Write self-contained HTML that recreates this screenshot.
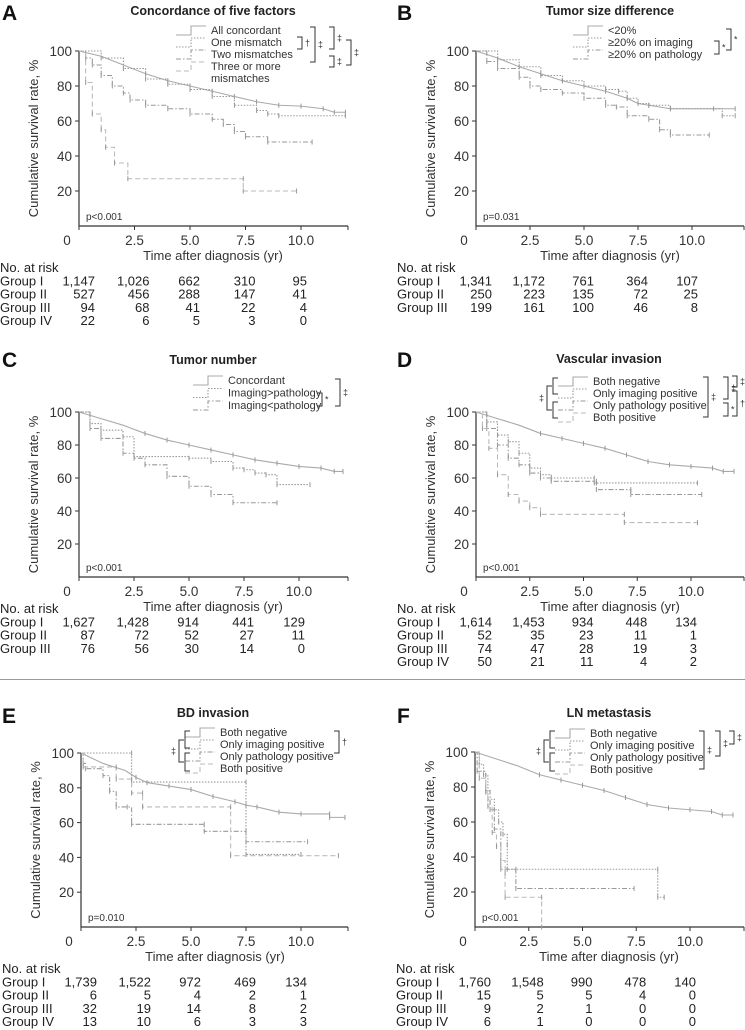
<!DOCTYPE html>
<html><head><meta charset="utf-8">
<style>
html,body{margin:0;padding:0;background:#fff;}
svg{display:block;font-family:"Liberation Sans",Arial,sans-serif;}
</style></head>
<body>
<svg id="fig" width="745" height="1030" viewBox="0 0 745 1030"></svg>
<script>
// ---------- Data (years, survival %) ----------
const timeTicks = [0, 2.5, 5, 7.5, 10];
const timeTickLabels = ["0","2.5","5.0","7.5","10.0"];
const survTicks = [20, 40, 60, 80, 100];

const aGroup1 = [[0,100],[1,97],[2,92],[3,87],[4,83],[5,80],[6,77],[7,74],[8,71],[9,69],[10,68.5],[11,67],[11.5,65],[12,65]];
const aGroup2 = [[0,100],[1,96],[2,90],[3,84],[4,81],[5,78],[6,74],[7,69],[8,66],[8.5,64],[9,63],[12,63]];
const aGroup3 = [[0,100],[0.3,96],[0.6,92],[1,86],[1.5,80],[2,76],[2.3,72],[3,69],[4,67],[5,64],[6,61],[6.5,58],[7,54],[7.5,51],[8.5,48],[10.5,48]];
const aGroup4 = [[0,100],[0.3,82],[0.6,64],[1,55],[1.2,45],[1.6,36],[2.2,27],[7.4,27],[7.4,20],[9.8,20]];
const aRisk = [["1,147","1,026","662","310","95"],["527","456","288","147","41"],["94","68","41","22","4"],["22","6","5","3","0"]];

const bGroup1 = [[0,100],[1,96],[2,91],[3,87],[4,83],[5,80],[6,77],[7,73],[7.5,70],[8,69],[9,67],[12,67]];
const bGroup2 = [[0,100],[1,95],[2,91],[3,86],[4,83],[5,80],[6,78],[6.6,77],[7,73],[7.5,70],[8,69],[9,67],[11,67],[11.4,63],[12,63]];
const bGroup3 = [[0,100],[0.5,94],[1,90],[2,85],[2.5,80],[3,78],[4,76],[5,73],[6,69],[6.5,68],[7,63],[8,61],[8.5,55],[9,52],[10.8,52]];
const bRisk = [["1,341","1,172","761","364","107"],["250","223","135","72","25"],["199","161","100","46","8"]];

const cGroup1 = [[0,100],[1,96],[2,92],[3,87],[4,83],[5,80],[6,77],[7,74],[8,71],[9,69],[10,67],[11,66],[11.6,64],[12,64]];
const cGroup2 = [[0,100],[0.5,93],[1,89],[2,85],[2.5,73],[5,72],[6,70],[7,66],[7.5,65],[8,63],[8.5,62],[9,56],[10.5,56]];
const cGroup3 = [[0,100],[0.5,90],[1,84],[2,75],[2.5,72],[3,68],[4,61],[5,55],[6,50],[7,45],[9,45]];
const cRisk = [["1,627","1,428","914","441","129"],["87","72","52","27","11"],["76","56","30","14","0"]];

const dGroup1 = [[0,100],[1,96],[2,92],[3,87],[4,84],[5,81],[6,78],[7,74],[8,70],[9,68],[10,67],[11,66],[11.5,64],[12,64]];
const dGroup2 = [[0,100],[0.5,94],[1,86],[1.5,82],[2,75],[2.5,66],[3,62],[3.5,60],[5.5,60],[5.5,57],[10.3,57]];
const dGroup3 = [[0,100],[0.5,90],[1,80],[1.5,72],[2,68],[2.5,63],[3,60],[3.5,58],[5.6,58],[5.6,53],[7.2,53],[7.2,50],[10.5,50]];
const dGroup4 = [[0,100],[0.3,90],[0.6,78],[1,62],[1.5,50],[2,46],[2.5,42],[3,38],[6.9,38],[6.9,33],[10.3,33]];
const dRisk = [["1,614","1,453","934","448","134"],["52","35","23","11","1"],["74","47","28","19","3"],["50","21","11","4","2"]];

const eGroup1 = [[0,100],[1,94],[2,90],[2.5,86],[3,83],[4,81],[5,79],[6,75],[7,72],[7.5,70],[8,69],[9,66],[10,65],[11.3,65],[11.3,63],[12,63]];
const eGroup2 = [[0,100],[2.3,100],[2.3,83.3],[7.5,83.3],[7.5,41.7],[10,41.7]];
const eGroup3 = [[0,100],[0.1,94],[0.2,91],[1,87],[1.3,78],[1.6,69],[2.1,69],[2.3,59],[5.6,59],[5.6,55],[7.5,55],[7.5,49],[10.3,49]];
const eGroup4 = [[0,100],[0.1,92],[1.6,92],[1.6,85],[2.3,85],[2.3,77],[2.8,77],[2.8,69],[6.8,69],[6.8,41],[11.7,41]];
const eRisk = [["1,739","1,522","972","469","134"],["6","5","4","2","1"],["32","19","14","8","2"],["13","10","6","3","3"]];

const fGroup1 = [[0,100],[1,96],[2,92],[3,87],[4,84],[5,81],[6,78],[7,74],[8,70],[9,68],[10,67],[11,66],[11.5,64],[12,64]];
const fGroup2 = [[0,100],[0.2,93],[0.4,87],[0.6,73],[0.9,67],[1.1,60],[1.3,53],[1.5,47],[1.5,33],[8.5,33],[8.5,17],[8.8,17]];
const fGroup3 = [[0,100],[0.1,89],[0.5,78],[0.7,67],[0.9,56],[1.2,33],[1.9,33],[1.9,22],[7.4,22]];
const fGroup4 = [[0,100],[0.2,85],[0.5,77],[0.6,69],[0.8,54],[1.0,46],[1.2,38],[1.4,31],[1.4,17],[3.1,17],[3.1,0]];
const fRisk = [["1,760","1,548","990","478","140"],["15","5","5","4","0"],["9","2","1","0","0"],["6","1","0","0","0"]];

// ---------- Rendering ----------
const NS = "http://www.w3.org/2000/svg";
const svg = document.getElementById("fig");
function el(tag, attrs, parent, text) {
  const e = document.createElementNS(NS, tag);
  for (const k in attrs) e.setAttribute(k, attrs[k]);
  if (text !== undefined) e.textContent = text;
  (parent || svg).appendChild(e);
  return e;
}
const dashes = ["", "1.5,1.5", "5,2,1.5,2", "5,3"];
const lineColors = ["#aaa", "#999", "#999", "#bbb"];

const panels = [
  {id:"a", letter:"A", title:"Concordance of five factors", x0:79, y100:51, y0:226, px:22.2, xEnd:348, tx:213, ty:15, ly:16,
   series:[aGroup1,aGroup2,aGroup3,aGroup4], risk:aRisk, p:"p<0.001",
   legend:["All concordant","One mismatch","Two mismatches","Three or more","mismatches"], legX:211, legY:30, legStep:12, riskY:267},
  {id:"b", letter:"B", title:"Tumor size difference", x0:476, y100:51, y0:226, px:21.6, xEnd:744, tx:610, ty:15, ly:16,
   series:[bGroup1,bGroup2,bGroup3], risk:bRisk, p:"p=0.031",
   legend:["<20%","\u226520% on imaging","\u226520% on pathology"], legX:608, legY:30, legStep:12, riskY:267},
  {id:"c", letter:"C", title:"Tumor number", x0:79, y100:412, y0:577, px:22.0, xEnd:348, tx:213, ty:364, ly:363,
   series:[cGroup1,cGroup2,cGroup3], risk:cRisk, p:"p<0.001",
   legend:["Concordant","Imaging>pathology","Imaging<pathology"], legX:228, legY:380, legStep:12.5, riskY:608},
  {id:"d", letter:"D", title:"Vascular invasion", x0:476, y100:412, y0:577, px:21.5, xEnd:744, tx:609, ty:363, ly:363,
   series:[dGroup1,dGroup2,dGroup3,dGroup4], risk:dRisk, p:"p<0.001",
   legend:["Both negative","Only imaging positive","Only pathology positive","Both positive"], legX:593, legY:381, legStep:12, riskY:608},
  {id:"e", letter:"E", title:"BD invasion", x0:81, y100:753, y0:927, px:22.0, xEnd:348, tx:213, ty:717, ly:719,
   series:[eGroup1,eGroup2,eGroup3,eGroup4], risk:eRisk, p:"p=0.010",
   legend:["Both negative","Only imaging positive","Only pathology positive","Both positive"], legX:220, legY:732, legStep:12, riskY:968},
  {id:"f", letter:"F", title:"LN metastasis", x0:475, y100:752, y0:927, px:21.5, xEnd:744, tx:609, ty:717, ly:719,
   series:[fGroup1,fGroup2,fGroup3,fGroup4], risk:fRisk, p:"p<0.001",
   legend:["Both negative","Only imaging positive","Only pathology positive","Both positive"], legX:590, legY:733, legStep:12, riskY:968}
];
const groupNames = ["Group I","Group II","Group III","Group IV"];
const riskOff = [16,15,10,10,6];

panels.forEach(P => {
  const g = el("g", {}, svg);
  
  
  const sx = t => P.x0 + t * P.px;
  const sy = v => P.y0 - (v / 100) * (P.y0 - P.y100);

  const L = el("text", {x: P.id==="a"||P.id==="c"||P.id==="e" ? 2 : 397, y: P.ly + 4, "font-size": 21, "font-weight": "bold", fill:"#111"}, g, P.letter);
  
  
  const T = el("text", {x: P.tx, y: P.ty, "font-size": 12.5, "font-weight": "bold", "text-anchor": "middle", fill:"#222"}, g, P.title);
  
  

  const ax = el("path", {d:`M${P.x0},${P.y100} V${P.y0} H${P.xEnd}`, stroke:"#333", fill:"none", "stroke-width":1.2}, g);
  
  
  survTicks.forEach(v => {
    el("line", {x1:P.x0-4, x2:P.x0, y1:sy(v), y2:sy(v), stroke:"#333"}, g);
    const t = el("text", {x:P.x0-7, y:sy(v)+5, "font-size":13.5, "text-anchor":"end", fill:"#333"}, g, String(v));
    
    
  });
  timeTicks.forEach((tk, i) => {
    el("line", {x1:sx(tk), x2:sx(tk), y1:P.y0, y2:P.y0+4, stroke:"#333"}, g);
    const t = el("text", {x: i===0 ? P.x0-12 : sx(tk), y:P.y0+19, "font-size":13.5, "text-anchor":"middle", fill:"#333"}, g, timeTickLabels[i]);
    
    
  });
  el("line", {x1:P.xEnd, x2:P.xEnd, y1:P.y0, y2:P.y0+4, stroke:"#333"}, g);
  const xt = el("text", {x:P.x0 + 134, y:P.y0+34, "font-size":13, "text-anchor":"middle", fill:"#333"}, g, "Time after diagnosis (yr)");
  
  
  const ycx = P.x0 - 41, ycy = (P.y100 + P.y0) / 2;
  const yt = el("text", {x:ycx, y:ycy, "font-size":13, "text-anchor":"middle", fill:"#333", transform:`rotate(-90 ${ycx} ${ycy})`}, g, "Cumulative survival rate, %");
  
  
  const pv = el("text", {x:P.x0+7, y:P.y0-6, "font-size":10, fill:"#333"}, g, P.p);
  
  

  P.series.forEach((s, k) => {
    let d = `M${sx(s[0][0])},${sy(s[0][1])}`;
    for (let i = 1; i < s.length; i++) {
      d += ` H${sx(s[i][0])} V${sy(s[i][1])}`;
    }
    if (k === 0) {
      d = "M" + s.map(q => `${sx(q[0])},${sy(q[1])}`).join(" L");
    }
    const c = el("path", {d, stroke: lineColors[k], fill:"none", "stroke-width":1.1, "stroke-dasharray": dashes[k]}, g);
    
    
    for (let i = 1; i < s.length; i++) {
      if (s[i][0] < 2.5 && k === 0) continue;
      const m = el("path", {d:`M${sx(s[i][0])},${sy(s[i][1])-2.5} v5`, stroke:"#999", "stroke-width":1}, g);
      
      
    }
  });

  P.legend.forEach((txt, i) => {
    const y = P.legY + i * P.legStep;
    const lt = el("text", {x:P.legX, y:y+4, "font-size":11, fill:"#333"}, g, txt);
    
    
    if (i < P.series.length) {
      const x2 = P.legX - 5;
      const sw = el("path", {d:`M${x2-30},${y+5} H${x2-15} V${y-4} H${x2}`, stroke:lineColors[i], fill:"none", "stroke-width":1.1, "stroke-dasharray":dashes[i]}, g);
      
      
    }
  });

  const rh = el("text", {x: P.x0 - 79, y:P.riskY+5, "font-size":13, fill:"#222"}, g, "No. at risk");
  
  
  P.risk.forEach((row, r) => {
    const y = P.riskY + 5 + (r + 1) * 13.3;
    const gn = el("text", {x:P.x0 - 79, y, "font-size":13, fill:"#222"}, g, groupNames[r]);
    
    
    row.forEach((v, j) => {
      const t = el("text", {x:sx(timeTicks[j]) + riskOff[j], y, "font-size":13, "text-anchor":"end", fill:"#222"}, g, v);
      
      
    });
  });
});

function bracket(x, y1, y2, sym, dir) {
  const d = `M${x - 5*dir},${y1} H${x} V${y2} H${x - 5*dir}`;
  const b = el("path", {d, stroke:"#333", fill:"none", "stroke-width":1}, svg);
  
  
  const t = el("text", {x:x + 3*dir, y:(y1+y2)/2 + 3, "font-size":9, fill:"#333", "text-anchor": dir>0?"start":"end"}, svg, sym);
  
  
}
// A
bracket(302, 37, 49, "\u2020", 1);
bracket(315, 27, 62, "\u2021", 1);
bracket(334, 27, 49, "\u2021", 1);
bracket(334, 56, 67, "\u2021", 1);
bracket(351, 40, 65, "\u2021", 1);
// B
bracket(719, 41, 54, "*", 1);
bracket(731, 29, 50, "*", 1);
// C
bracket(322, 393, 406, "*", 1);
bracket(340, 379, 406, "\u2021", 1);
// D
bracket(553, 378, 394, "", -1); bracket(553, 402, 418, "", -1);
bracket(547, 386, 410, "\u2021", -1);
bracket(708, 377, 417, "\u2021", 1);
bracket(728, 377, 399, "\u2021", 1);
bracket(728, 403, 416, "*", 1);
bracket(737, 376, 387, "\u2021", 1);
bracket(737, 391, 416, "\u2020", 1);
// E
bracket(185, 731, 748, "", -1); bracket(185, 753, 771, "", -1);
bracket(179, 740, 762, "\u2021", -1);
bracket(339, 731, 753, "\u2020", 1);
// F
bracket(550, 731, 748, "", -1); bracket(550, 753, 771, "", -1);
bracket(544, 740, 762, "\u2021", -1);
bracket(704, 731, 769, "\u2021", 1);
bracket(720, 731, 756, "\u2021", 1);
bracket(734, 731, 744, "\u2021", 1);

const sep = el("line", {x1:0, x2:745, y1:679.5, y2:679.5, stroke:"#8f9bb3", "stroke-width":1}, svg);


</script>
</body></html>
